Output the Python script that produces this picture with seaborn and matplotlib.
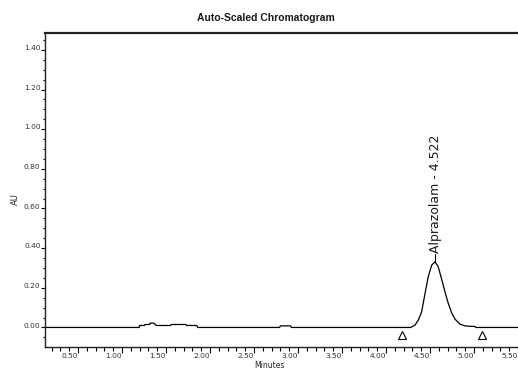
import matplotlib
matplotlib.use("Agg")
import matplotlib.pyplot as plt
import numpy as np
import pandas as pd
import seaborn as sns
from matplotlib.ticker import FixedLocator, MultipleLocator
from matplotlib.transforms import ScaledTranslation

# ---------------- data ----------------
title = "Auto-Scaled Chromatogram"
x_label = "Minutes"
y_label = "AU"
peak_name = "Alprazolam"
peak_rt_label = "4.522"

time_min = [0.125, 1.195, 1.200, 1.255, 1.260, 1.315, 1.320, 1.360, 1.385, 1.390,
            1.550, 1.560, 1.725, 1.735, 1.850, 1.860, 2.790, 2.800, 2.915, 2.925,
            4.280, 4.300, 4.330, 4.367, 4.405, 4.443, 4.480, 4.520, 4.557, 4.594,
            4.630, 4.670, 4.708, 4.746, 4.784, 4.840, 4.898, 4.950, 5.010, 5.020,
            5.550]
absorbance_au = [0.000, 0.000, 0.010, 0.010, 0.015, 0.015, 0.022, 0.022, 0.012, 0.010,
                 0.010, 0.015, 0.015, 0.010, 0.010, 0.000, 0.000, 0.008, 0.008, 0.000,
                 0.000, 0.005, 0.012, 0.037, 0.079, 0.170, 0.256, 0.315, 0.331, 0.306,
                 0.247, 0.180, 0.121, 0.074, 0.042, 0.017, 0.008, 0.006, 0.005, 0.000,
                 0.000]

integration_marks_min = [4.178, 5.087]
integration_marks_au = [-0.036, -0.036]

x_ticks = [0.50, 1.00, 1.50, 2.00, 2.50, 3.00, 3.50, 4.00, 4.50, 5.00, 5.50]
x_tick_labels = ["0.50", "1.00", "1.50", "2.00", "2.50", "3.00", "3.50", "4.00", "4.50", "5.00", "5.50"]
y_ticks = [0.00, 0.20, 0.40, 0.60, 0.80, 1.00, 1.20, 1.40]
y_tick_labels = ["0.00", "0.20", "0.40", "0.60", "0.80", "1.00", "1.20", "1.40"]

# ---------------- figure ----------------
sns.set_theme(style="white")
plt.rcParams["font.family"] = ["DejaVu Sans"]

W, H = 518, 374
fig = plt.figure(figsize=(W / 100, H / 100), dpi=100)
left_px, right_px, top_px, bottom_px = 45, 522.4, 33, 346.5
ax = fig.add_axes([left_px / W, (H - bottom_px) / H,
                   (right_px - left_px) / W, (bottom_px - top_px) / H])
ax.set_facecolor("white")

df = pd.DataFrame({"Minutes": time_min, "AU": absorbance_au})
sns.lineplot(data=df, x="Minutes", y="AU", ax=ax, color="black",
             linewidth=0.9, estimator=None, sort=False)

ax.plot(integration_marks_min, integration_marks_au, linestyle="none",
        marker="^", markersize=5.5, markerfacecolor="white",
        markeredgecolor="black", markeredgewidth=0.8)

# peak label
i_apex = int(np.argmax(absorbance_au))
apex_t, apex_au = time_min[i_apex], absorbance_au[i_apex]
ax.plot([apex_t, apex_t], [apex_au, apex_au + 0.04], color="black", linewidth=0.8)
ax.text(apex_t, apex_au + 0.047, f"{peak_name} - {peak_rt_label}", rotation=90,
        ha="center", va="bottom", fontsize=9, color="#1a1a1a")

ax.set_xlim(0.125, 5.55)
ax.set_ylim(-0.096, 1.485)

ax.xaxis.set_major_locator(FixedLocator(x_ticks))
ax.set_xticklabels(x_tick_labels)
ax.xaxis.set_minor_locator(MultipleLocator(0.1))
ax.yaxis.set_major_locator(FixedLocator(y_ticks))
ax.set_yticklabels(y_tick_labels)
ax.yaxis.set_minor_locator(MultipleLocator(0.05))

ax.tick_params(axis="x", which="major", direction="out", length=4.4, width=0.8,
               pad=0.3, labelsize=5.4, colors="black", labelcolor="#333333", bottom=True)
ax.tick_params(axis="x", which="minor", direction="out", length=3.0, width=0.8,
               colors="black", bottom=True)
ax.tick_params(axis="y", which="major", direction="out", length=2.6, width=0.8,
               pad=0.6, labelsize=5.4, colors="black", labelcolor="#333333", left=True)
ax.tick_params(axis="y", which="minor", direction="out", length=1.8, width=0.8,
               colors="black", left=True)

for lbl in ax.get_xticklabels():
    lbl.set_horizontalalignment("right")
for lbl in ax.get_yticklabels():
    lbl.set_transform(lbl.get_transform() + ScaledTranslation(0, 0.022, fig.dpi_scale_trans))

for side in ["top", "left", "bottom", "right"]:
    ax.spines[side].set_color("#222222")
ax.spines["top"].set_linewidth(1.6)
ax.spines["left"].set_linewidth(1.0)
ax.spines["bottom"].set_linewidth(1.0)
ax.spines["right"].set_visible(False)
ax.grid(False)

ax.set_xlabel(x_label, fontsize=5.5, color="#222222", va="center")
ax.xaxis.set_label_coords((269 - left_px) / (right_px - left_px),
                          -(366 - bottom_px) / (bottom_px - top_px))
ax.set_ylabel(y_label, fontsize=6, color="#222222", va="center")
ax.yaxis.set_label_coords(-(left_px - 15.5) / (right_px - left_px),
                          (bottom_px - 199) / (bottom_px - top_px))

fig.text(266 / W, 1 - 18 / H, title, ha="center", va="center", fontsize=7.5,
         fontweight="bold", color="#1a1a1a",
         family=["Liberation Sans", "DejaVu Sans"])

fig.savefig("out.png", dpi=100, facecolor="white")
